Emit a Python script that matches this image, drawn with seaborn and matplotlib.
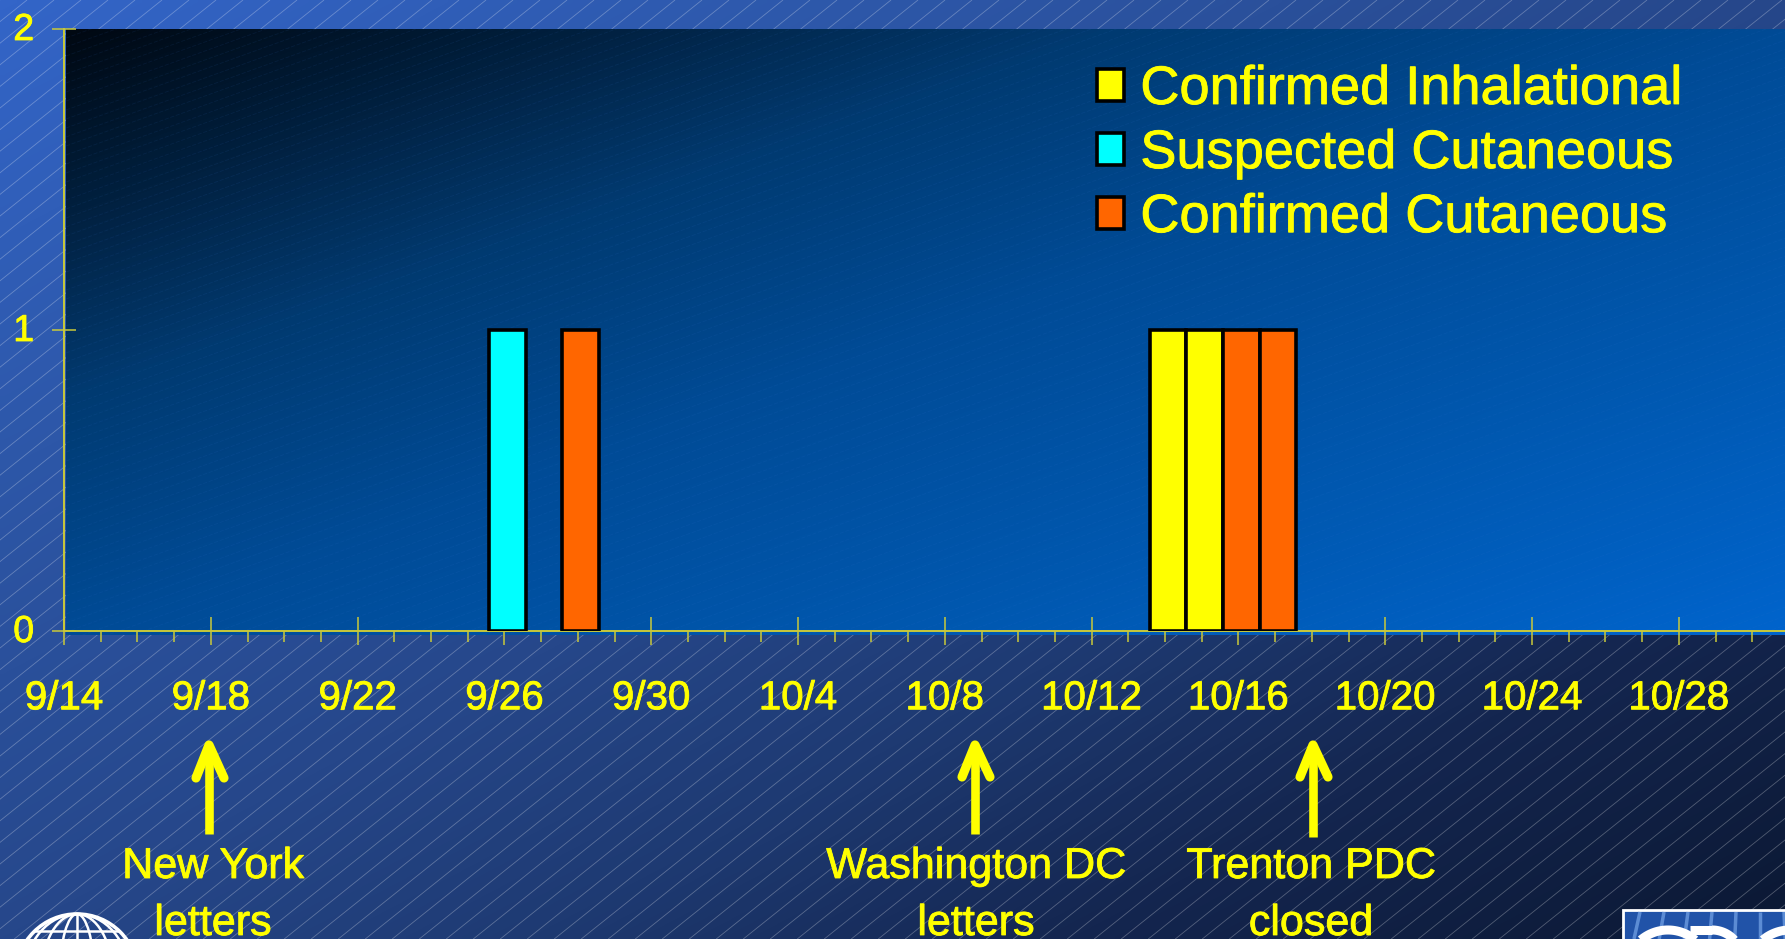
import numpy as np
import pandas as pd
import matplotlib
matplotlib.use("Agg")
import matplotlib.pyplot as plt
import matplotlib.patheffects as pe
from matplotlib.collections import LineCollection
from matplotlib.colors import LinearSegmentedColormap
from matplotlib.patches import Rectangle, Circle, Ellipse
from matplotlib.transforms import ScaledTranslation
import seaborn as sns

# ---- data ----
series_names = ["Confirmed Inhalational", "Suspected Cutaneous", "Confirmed Cutaneous"]
series_colors = ["#FFFF00", "#00FFFF", "#FF6600"]
inhalational_days = [30, 31]       # days after 9/14 (10/14, 10/15)
inhalational_cases = [1, 1]
suspected_days = [12]              # 9/26
suspected_cases = [1]
cutaneous_days = [14, 32, 33]      # 9/28, 10/16, 10/17
cutaneous_cases = [1, 1, 1]
tick_days = [0, 4, 8, 12, 16, 20, 24, 28, 32, 36, 40, 44]
tick_labels = ["9/14", "9/18", "9/22", "9/26", "9/30", "10/4", "10/8",
               "10/12", "10/16", "10/20", "10/24", "10/28"]
event_labels = ["New York\nletters", "Washington DC\nletters", "Trenton PDC\nclosed"]

W, H = 1785, 939
YEL = "#FFFF00"
AXC = "#C9C93A"
FONT = "Liberation Sans"
STROKE = [pe.withStroke(linewidth=0.6, foreground=YEL)]

sns.set_theme(style="white")
plt.rcParams["font.family"] = [FONT, "DejaVu Sans"]

df = pd.DataFrame({
    "day": inhalational_days + suspected_days + cutaneous_days,
    "cases": inhalational_cases + suspected_cases + cutaneous_cases,
    "type": [series_names[0]] * len(inhalational_days)
          + [series_names[1]] * len(suspected_days)
          + [series_names[2]] * len(cutaneous_days),
})

fig = plt.figure(figsize=(W / 100, H / 100), dpi=100)

# ---- background (pixel coordinates) ----
bg = fig.add_axes([0, 0, 1, 1], zorder=0)
bg.set_xlim(0, W)
bg.set_ylim(H, 0)
bg.axis("off")

page_cmap = LinearSegmentedColormap.from_list(
    "page", [(0, "#3365C8"), (0.25, "#2D57A8"), (0.5, "#26478A"),
             (0.65, "#1E3A72"), (0.8, "#142650"), (1, "#0B1833")])
panel_cmap = LinearSegmentedColormap.from_list(
    "panel", [(0, "#000812"), (0.15, "#01203F"), (0.3, "#013A70"),
              (0.5, "#004B96"), (0.75, "#0058B0"), (1, "#0064CC")])
u, v = np.meshgrid(np.linspace(0, 1, 300), np.linspace(0, 1, 200))
bg.imshow((u + v) / 2, cmap=page_cmap, vmin=0, vmax=1, extent=[0, W, H, 0],
          aspect="auto", zorder=0, interpolation="bilinear")

slope = 0.8
segs = [[(x0, 0), (x0 - H / slope, H)] for x0 in np.arange(0, W + H / slope + 28, 27)]
bg.add_collection(LineCollection(segs, colors="white", linewidths=0.6, alpha=0.28, zorder=1))

panel_l, panel_t, panel_b = 66, 29, 635
bg.imshow((u + v) / 2, cmap=panel_cmap, vmin=0, vmax=1,
          extent=[panel_l, W, panel_b, panel_t], aspect="auto", zorder=2,
          interpolation="bilinear")
slope2 = 0.36
segs2 = [[(panel_l, y0), (W, y0 - (W - panel_l) * slope2)]
         for y0 in np.arange(panel_t, panel_b + (W - panel_l) * slope2, 9)]
clip = Rectangle((panel_l, panel_t), W - panel_l, panel_b - panel_t, transform=bg.transData)
lc2 = LineCollection(segs2, colors="#3C78D8", linewidths=0.6, alpha=0.10,
                     linestyles=(0, (5, 2)), zorder=3)
bg.add_collection(lc2)
lc2.set_clip_path(clip)
bg.set_xlim(0, W)
bg.set_ylim(H, 0)

# ---- chart ----
ax_l, ax_t, ax_b = 64, 29, 631
px_per_day = 36.7
ax = fig.add_axes([ax_l / W, 1 - ax_b / H, (W - ax_l) / W, (ax_b - ax_t) / H], zorder=1)
ax.patch.set_alpha(0)
sns.barplot(data=df, x="day", y="cases", hue="type", hue_order=series_names,
            palette=series_colors, native_scale=True, dodge=False, width=1.0,
            saturation=1, edgecolor="black", linewidth=2.6, ax=ax, zorder=3)
# the bars of the reference sit a hair to the right of their day ticks
for c in ax.containers:
    for p in c:
        p.set_x(p.get_x() + 0.08)
ax.set_xlim(0, (W - ax_l) / px_per_day)
ax.set_ylim(0, 2)
ax.set_xlabel("")
ax.set_ylabel("")
ax.set_xticks(tick_days)
ax.set_xticklabels(tick_labels, fontsize=29, color=YEL, family=FONT, path_effects=STROKE)
ax.set_xticks(np.arange(0, 47), minor=True)
ax.set_yticks([0, 1, 2])
ax.set_yticklabels(["0", "1", "2"], fontsize=27, color=YEL, family=FONT, path_effects=STROKE)
ax.tick_params(axis="x", which="major", direction="inout", length=19.5, width=1.1,
               color=AXC, pad=25, bottom=True)
ax.tick_params(axis="x", which="minor", direction="out", length=8, width=1.1, color=AXC, bottom=True)
ax.tick_params(axis="y", which="major", direction="inout", length=17, width=1.1,
               color=AXC, pad=13, left=True)
up = ScaledTranslation(0, 3 / 100, fig.dpi_scale_trans)
for lab in ax.get_yticklabels():
    lab.set_transform(lab.get_transform() + up)
for s in ["top", "right"]:
    ax.spines[s].set_visible(False)
for s in ["left", "bottom"]:
    ax.spines[s].set_color(AXC)
    ax.spines[s].set_linewidth(1.4)

sns.move_legend(ax, loc="upper left",
                bbox_to_anchor=((1097 - ax_l) / (W - ax_l), 1 - (65 - ax_t) / (ax_b - ax_t)),
                frameon=False, title=None, prop={"family": FONT, "size": 39},
                labelcolor=YEL, handlelength=0.49, handleheight=0.55,
                handletextpad=0.31, labelspacing=0.26, borderpad=0, borderaxespad=0)
leg = ax.get_legend()
for h in leg.get_patches():
    h.set_edgecolor("black")
    h.set_linewidth(2.6)
for tx in leg.get_texts():
    tx.set_path_effects(STROKE)

# ---- overlay: event arrows, captions, logos ----
ov = fig.add_axes([0, 0, 1, 1], zorder=2)
ov.set_xlim(0, W)
ov.set_ylim(H, 0)
ov.axis("off")

arrows = [(209, 834, 196, 224, 778), (975, 834, 962, 990, 777), (1313, 837, 1300, 1328, 777)]
tip_y = 745
for x, yb, bl, br, by in arrows:
    ov.plot([x, x], [yb, tip_y], color=YEL, lw=6.2, solid_capstyle="butt")
    ov.plot([bl, x, br], [by, tip_y, by], color=YEL, lw=6.6, solid_capstyle="round",
            solid_joinstyle="round")

for (cx, label) in zip([213, 976, 1311], event_labels):
    l1, l2 = label.split("\n")
    ov.text(cx, 878, l1, color=YEL, fontsize=31, ha="center", va="baseline", family=FONT, path_effects=STROKE)
    ov.text(cx, 935, l2, color=YEL, fontsize=31, ha="center", va="baseline", family=FONT, path_effects=STROKE)

# globe logo (cropped by the slide edge)
gx, gy, gr = 77, 975, 61
ov.add_patch(Circle((gx, gy), gr, fill=False, ec="white", lw=2.6))
for f in [0.28, 0.58, 0.85]:
    ov.add_patch(Ellipse((gx, gy), 2 * gr * f, 2 * gr, fill=False, ec="white", lw=1.8))
ov.plot([gx, gx], [gy - gr, gy], color="white", lw=1.8)
for dy in [44, 27]:
    hw = np.sqrt(gr ** 2 - dy ** 2)
    ov.plot([gx - hw, gx + hw], [gy - dy, gy - dy], color="white", lw=1.8)
ov.add_patch(Ellipse((gx + 14, gy - 20), 34, 22, fc="white", ec="#1B2F70", lw=1.5, zorder=5))

# CDC logo (cropped by the slide edge)
ov.add_patch(Rectangle((1623, 910), W - 1623 + 5, 40, fc="#2153A8", ec="white", lw=2))
ray_segs = [[(1640 + i * 24, 912), (1640 + i * 24 - 6 + i * 1.2, 939)] for i in range(7)]
ov.add_collection(LineCollection(ray_segs, colors="#6C9BE0", linewidths=2.5, alpha=0.8))
t = np.linspace(np.pi * 1.15, np.pi * 1.75, 40)
ov.plot(1668 + 42 * np.cos(t), 972 + 42 * np.sin(t), color="white", lw=6.5, solid_capstyle="butt")
ov.plot([1690, 1712], [930, 930], color="white", lw=6.5, solid_capstyle="butt")
t2 = np.linspace(np.pi * 1.5, np.pi * 1.85, 30)
ov.plot(1712 + 30 * np.cos(t2), 960 + 30 * np.sin(t2), color="white", lw=6.5, solid_capstyle="butt")
ov.plot(1790 + 42 * np.cos(t), 972 + 42 * np.sin(t), color="white", lw=6.5, solid_capstyle="butt")

fig.savefig("out.png", dpi=100)
